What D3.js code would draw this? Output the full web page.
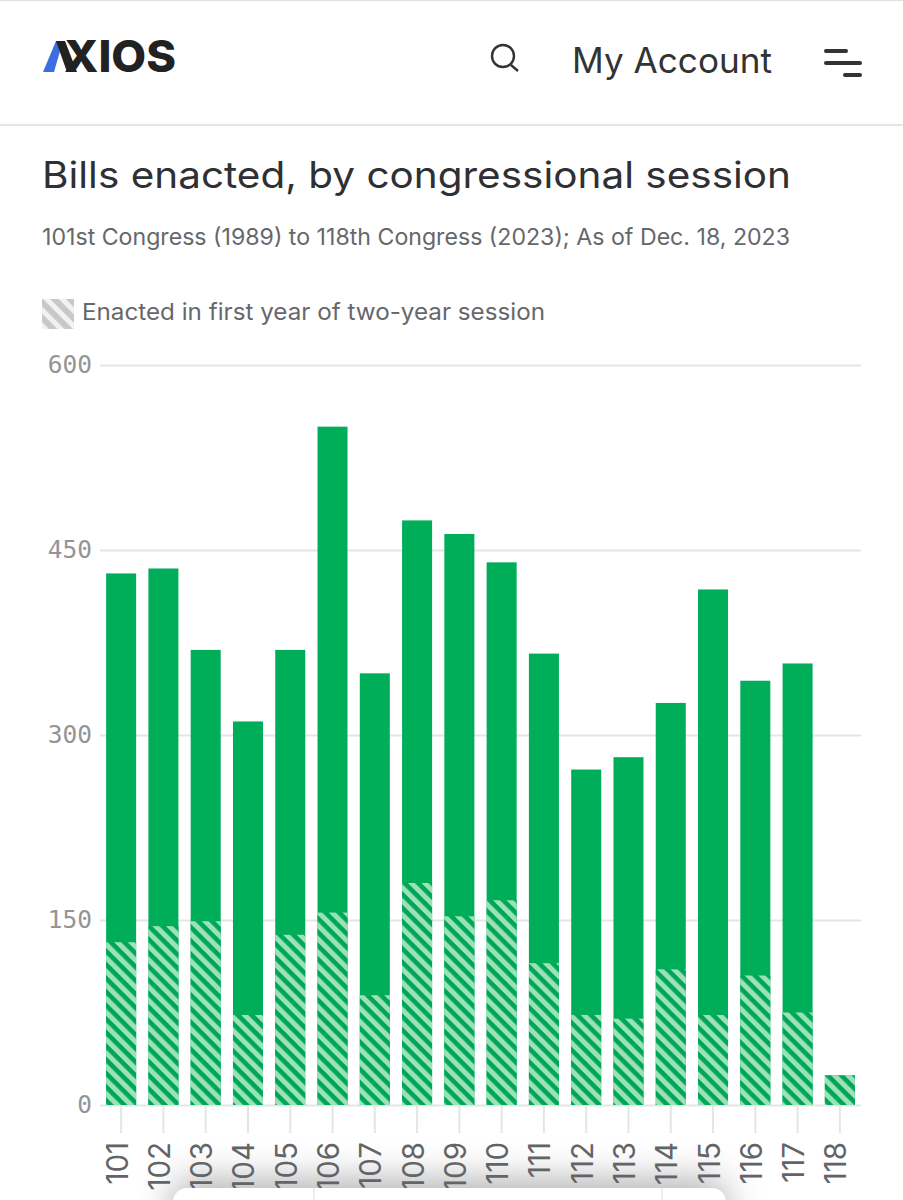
<!DOCTYPE html>
<html><head><meta charset="utf-8">
<script src="https://cdn.jsdelivr.net/npm/d3@7/dist/d3.min.js"></script>
<style>html,body{margin:0;padding:0;background:#fff;overflow:hidden}svg{display:block}</style>
</head><body><svg id="c" width="903" height="1200"></svg>
<script>
const sessions=["101","102","103","104","105","106","107","108","109","110","111","112","113","114","115","116","117","118"];
const totalBills=[431,435,369,311,369,550,350,474,463,440,366,272,282,326,418,344,358,24];
const firstYearBills=[132,145,149,73,138,156,89,180,153,166,115,73,70,110,73,105,75,24];
const yTicks=[0,150,300,450,600];
const title="Bills enacted, by congressional session";
const subtitle="101st Congress (1989) to 118th Congress (2023); As of Dec. 18, 2023";
const legendLabel="Enacted in first year of two-year session";

const font="Inter, 'Noto Sans', sans-serif";
const mono="'DejaVu Sans Mono', monospace";
const svg=d3.select("#c");
const defs=svg.append("defs");
const pat=defs.append("pattern").attr("id","hatch").attr("patternUnits","userSpaceOnUse").attr("width",9.6).attr("height",9.6).attr("patternTransform","rotate(-45)");
pat.append("rect").attr("width",9.6).attr("height",9.6).attr("fill","#00a658");
pat.append("rect").attr("width",5).attr("height",9.6).attr("fill","#9be2b9");
const pat2=defs.append("pattern").attr("id","hatchGrey").attr("patternUnits","userSpaceOnUse").attr("width",11).attr("height",11).attr("patternTransform","rotate(-45)");
pat2.append("rect").attr("width",11).attr("height",11).attr("fill","#f2f2f2");
pat2.append("rect").attr("width",6).attr("height",11).attr("fill","#c8c8c8");
const blur=defs.append("filter").attr("id","soft").attr("x","-30%").attr("y","-100%").attr("width","160%").attr("height","300%");
blur.append("feGaussianBlur").attr("stdDeviation",18);

// page chrome
svg.append("rect").attr("width",903).attr("height",1).attr("fill","#e0e0e0");
svg.append("rect").attr("y",124).attr("width",903).attr("height",2).attr("fill","#e6e6e8");
svg.append("path").attr("d","M43 72 L56 41 L63 41 L54 72Z").attr("fill","#3b6fe0");
svg.append("path").attr("d","M56 41 L65 41 L77 72 L67 72Z").attr("fill","#222");
svg.append("text").attr("x",64).attr("y",72).attr("font-family",font).attr("font-weight",800).attr("font-size",44).attr("fill","#222").text("XIOS").attr("textLength",112).attr("lengthAdjust","spacingAndGlyphs");
svg.append("circle").attr("cx",503).attr("cy",56).attr("r",11).attr("fill","none").attr("stroke","#333").attr("stroke-width",2.4);
svg.append("line").attr("x1",511).attr("y1",65).attr("x2",518).attr("y2",71).attr("stroke","#333").attr("stroke-width",2.4);
svg.append("text").attr("x",572).attr("y",73).attr("font-family",font).attr("font-size",35).attr("fill","#333").text("My Account").attr("textLength",200).attr("lengthAdjust","spacingAndGlyphs");
[[826,846,51],[826,860,63],[845,860,75]].forEach(d=>svg.append("line").attr("x1",d[0]).attr("x2",d[1]).attr("y1",d[2]).attr("y2",d[2]).attr("stroke","#333").attr("stroke-width",4).attr("stroke-linecap","round"));

svg.append("text").attr("x",42).attr("y",188).attr("font-family",font).attr("font-weight",400).attr("font-size",37).attr("fill","#2f3034").text(title).attr("textLength",749).attr("lengthAdjust","spacingAndGlyphs");
svg.append("text").attr("x",42).attr("y",245).attr("font-family",font).attr("font-size",23).attr("fill","#66676b").text(subtitle).attr("textLength",748).attr("lengthAdjust","spacingAndGlyphs");
svg.append("rect").attr("x",42).attr("y",299).attr("width",32).attr("height",30).attr("fill","url(#hatchGrey)");
svg.append("text").attr("x",82).attr("y",320).attr("font-family",font).attr("font-size",23).attr("fill","#66676b").text(legendLabel).attr("textLength",463).attr("lengthAdjust","spacingAndGlyphs");

// chart
const x=d3.scaleBand().domain(sessions).range([100,861]).paddingInner(0.29).paddingOuter(0.145);
const y=d3.scaleLinear().domain([0,600]).range([1105,365]);

const gy=svg.append("g").attr("transform","translate(100,0)")
  .call(d3.axisLeft(y).tickValues(yTicks).tickSize(-761).tickPadding(8));
gy.select(".domain").remove();
gy.selectAll("line").attr("stroke","#e4e5e7").attr("stroke-width",2);
gy.selectAll("text").attr("font-family",mono).attr("font-size",24.5).attr("fill","#949496").attr("dy","0.32em");

const gx=svg.append("g").attr("transform","translate(0,1105)")
  .call(d3.axisBottom(x).tickSize(28).tickPadding(8));
gx.select(".domain").remove();
gx.selectAll("line").attr("stroke","#e4e5e7").attr("stroke-width",2);
gx.selectAll("text").attr("font-family",font).attr("font-size",29.5).attr("fill","#636468")
  .attr("text-anchor","end").attr("dy","0.22em").attr("x",-37).attr("y",0)
  .attr("transform","rotate(-90)");

svg.append("g").selectAll("rect").data(sessions).join("rect")
  .attr("x",d=>x(d)).attr("width",x.bandwidth())
  .attr("y",(d,i)=>y(totalBills[i])).attr("height",(d,i)=>y(0)-y(totalBills[i])).attr("fill","#00ae5a");
svg.append("g").selectAll("rect").data(sessions).join("rect")
  .attr("x",d=>x(d)).attr("width",x.bandwidth())
  .attr("y",(d,i)=>y(firstYearBills[i])).attr("height",(d,i)=>y(0)-y(firstYearBills[i])).attr("fill","url(#hatch)");

// floating toolbar at the bottom edge of the screenshot
svg.insert("rect","g").attr("x",173).attr("y",1180).attr("width",553).attr("height",70).attr("rx",18).attr("fill","#7a7a7a").attr("opacity",0.6).attr("filter","url(#soft)");
svg.append("rect").attr("x",173).attr("y",1188).attr("width",553).attr("height",60).attr("rx",14).attr("fill","#fff");
[314,662].forEach(v=>svg.append("line").attr("x1",v).attr("x2",v).attr("y1",1188).attr("y2",1200).attr("stroke","#ddd").attr("stroke-width",1));
</script></body></html>
